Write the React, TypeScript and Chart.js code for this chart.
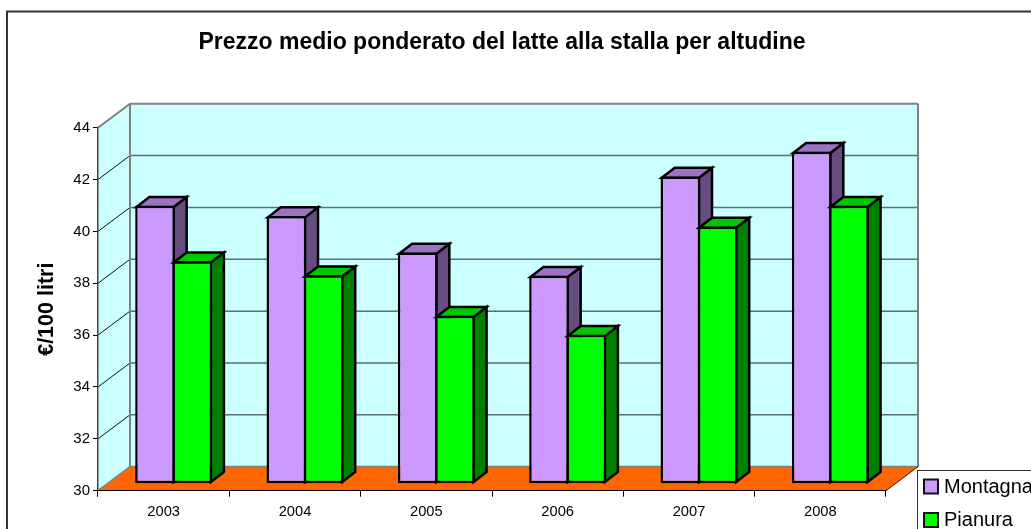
import React, { useEffect, useRef } from "react";
import { Chart, registerables } from "chart.js";

Chart.register(...registerables);

const categories = ["2003", "2004", "2005", "2006", "2007", "2008"];
const montagna = [40.72, 40.32, 38.92, 38.02, 41.85, 42.8];
const pianura = [38.58, 38.04, 36.48, 35.74, 39.92, 40.72];
const seriesNames = ["Montagna", "Pianura"];
const yTitle = "€/100 litri";
const chartTitle = "Prezzo medio ponderato del latte alla stalla per altudine";

const FONT = '"Liberation Sans", Arial, sans-serif';
const DEPTH_X = 32;
const DEPTH_Y = 24;
const BAR_SHIFT_X = 10;
const BAR_SHIFT_Y = 7;
const BAR_DX = 13;
const BAR_DY = 10;
const BAR_LINE = 2.5;

const faces: Record<string, { top: string; side: string }> = {
  "#cc99ff": { top: "#9c73c4", side: "#664d80" },
  "#00ff00": { top: "#00c800", side: "#008000" },
};

const scene3d = {
  id: "scene3d",
  afterLayout(chart: any) {
    const t = chart.titleBlock;
    t.left = 0;
    t.right = 1004;
    t.width = 1004;
  },
  beforeDraw(chart: any) {
    const { ctx, chartArea: a, scales } = chart;
    const y = scales.y;
    const poly = (pts: number[][], fill?: string) => {
      ctx.beginPath();
      pts.forEach((p, i) => (i ? ctx.lineTo(p[0], p[1]) : ctx.moveTo(p[0], p[1])));
      ctx.closePath();
      if (fill) {
        ctx.fillStyle = fill;
        ctx.fill();
      }
    };
    const line = (x0: number, y0: number, x1: number, y1: number, c: string, lw: number) => {
      ctx.beginPath();
      ctx.moveTo(x0, y0);
      ctx.lineTo(x1, y1);
      ctx.strokeStyle = c;
      ctx.lineWidth = lw;
      ctx.stroke();
    };
    ctx.save();
    ctx.fillStyle = "#ffffff";
    ctx.fillRect(0, 0, chart.width, chart.height);
    // outer frame
    ctx.strokeStyle = "#333333";
    ctx.lineWidth = 2;
    ctx.strokeRect(7, 11.5, 1200, 900);
    const bl = a.left + DEPTH_X;
    const br = a.right + DEPTH_X;
    const bt = a.top - DEPTH_Y;
    const bb = a.bottom - DEPTH_Y;
    // walls
    poly([[a.left, a.top], [bl, bt], [bl, bb], [a.left, a.bottom]], "#ccffff");
    poly([[bl, bt], [br, bt], [br, bb], [bl, bb]], "#ccffff");
    poly([[a.left, a.bottom], [a.right, a.bottom], [br, bb], [bl, bb]], "#ff6600");
    // gridlines
    y.ticks.forEach((t: any) => {
      const py = y.getPixelForValue(t.value);
      if (t.value !== y.min && t.value !== y.max) {
        line(bl, py - DEPTH_Y, br, py - DEPTH_Y, "#5f6f6f", 1.5);
      }
      if (t.value !== y.max) line(a.left, py, bl, py - DEPTH_Y, t.value === y.min ? "#808080" : "#111111", t.value === y.min ? 1.5 : 1);
    });
    // wall edges
    line(a.left, a.top, bl, bt, "#808080", 2);
    line(bl, bt, br, bt, "#808080", 2);
    line(bl, bt, bl, bb, "#808080", 2);
    line(br, bt, br, bb, "#808080", 2);
    line(bl, bb, br, bb, "#808080", 2);
    line(a.right, a.bottom, br, bb, "#222222", 1);
    ctx.restore();
  },
  beforeDatasetsDraw(chart: any) {
    const { ctx } = chart;
    const half = BAR_LINE / 2;
    ctx.save();
    ctx.translate(BAR_SHIFT_X, -BAR_SHIFT_Y);
    ctx.lineJoin = "miter";
    const metas = chart.getSortedVisibleDatasetMetas();
    categories.forEach((_, i) => {
      metas.forEach((meta: any, mi: number) => {
        const bar = meta.data[i];
        const p = bar.getProps(["x", "y", "base", "width"], true);
        const col = chart.data.datasets[meta.index].backgroundColor as string;
        const x0 = p.x - p.width / 2 + half;
        const x1 = p.x + p.width / 2 - half;
        const top = p.y + half;
        const bot = p.base - half;
        ctx.save();
        // neighbouring bars share one outline
        ctx.translate(mi === 0 ? half : -half, 0);
        ctx.lineWidth = BAR_LINE;
        ctx.strokeStyle = "#000000";
        ctx.beginPath();
        ctx.moveTo(x1, top);
        ctx.lineTo(x1 + BAR_DX, top - BAR_DY);
        ctx.lineTo(x1 + BAR_DX, bot - BAR_DY);
        ctx.lineTo(x1, bot);
        ctx.closePath();
        ctx.fillStyle = faces[col].side;
        ctx.fill();
        ctx.stroke();
        ctx.beginPath();
        ctx.moveTo(x0, top);
        ctx.lineTo(x0 + BAR_DX, top - BAR_DY);
        ctx.lineTo(x1 + BAR_DX, top - BAR_DY);
        ctx.lineTo(x1, top);
        ctx.closePath();
        ctx.fillStyle = faces[col].top;
        ctx.fill();
        ctx.stroke();
        bar.draw(ctx);
        ctx.restore();
      });
    });
    ctx.restore();
    return false;
  },
  afterDraw(chart: any) {
    const { ctx } = chart;
    ctx.save();
    ctx.fillStyle = "#ffffff";
    ctx.fillRect(917, 470.5, 200, 100);
    ctx.strokeStyle = "#333333";
    ctx.lineWidth = 1;
    ctx.strokeRect(917.5, 470.5, 200, 100);
    ctx.font = `20px ${FONT}`;
    ctx.textBaseline = "middle";
    ctx.textAlign = "left";
    chart.data.datasets.forEach((d: any, i: number) => {
      const cy = 486.5 + i * 33.5;
      ctx.fillStyle = d.backgroundColor;
      ctx.fillRect(924, cy - 7, 14, 14);
      ctx.strokeStyle = "#111111";
      ctx.lineWidth = 2;
      ctx.strokeRect(924, cy - 7, 14, 14);
      ctx.fillStyle = "#000000";
      ctx.fillText(d.label, 944, cy + 0.5);
    });
    ctx.restore();
  },
};

export default function App() {
  const ref = useRef<HTMLCanvasElement>(null);
  useEffect(() => {
    const chart = new Chart(ref.current!, {
      type: "bar",
      data: {
        labels: categories,
        datasets: [
          { label: seriesNames[0], data: montagna, base: 30, backgroundColor: "#cc99ff", borderColor: "#000000", borderWidth: BAR_LINE, borderSkipped: false },
          { label: seriesNames[1], data: pianura, base: 30, backgroundColor: "#00ff00", borderColor: "#000000", borderWidth: BAR_LINE, borderSkipped: false },
        ],
      },
      plugins: [scene3d],
      options: {
        responsive: false,
        animation: false,
        layout: { padding: { left: 0, top: 0, right: 145, bottom: 0 } },
        datasets: { bar: { categoryPercentage: 0.605, barPercentage: 1 } },
        plugins: {
          legend: { display: false },
          tooltip: { enabled: false },
          title: {
            display: true,
            text: chartTitle,
            color: "#000000",
            font: { family: FONT, size: 23, weight: "bold" },
            padding: { top: 29, bottom: 71.1 },
          },
        },
        scales: {
          x: {
            afterFit: (s: any) => {
              s.height = 38.3;
            },
            grid: { drawOnChartArea: false, drawTicks: true, tickLength: 6, color: "#000000", offset: true },
            border: { display: true, color: "#000000", width: 1 },
            ticks: { color: "#000000", font: { family: FONT, size: 14.7 }, padding: 6, maxRotation: 0 },
          },
          y: {
            min: 30,
            max: 44,
            afterFit: (s: any) => {
              s.width = 98;
            },
            title: {
              display: true,
              text: yTitle,
              color: "#000000",
              font: { family: FONT, size: 21.5, weight: "bold" },
              padding: { top: 34, bottom: 0 },
            },
            grid: { drawOnChartArea: false, drawTicks: true, tickLength: 5, color: "#000000" },
            border: { display: true, color: "#444444", width: 1.5 },
            ticks: { stepSize: 2, color: "#000000", font: { family: FONT, size: 15 }, padding: 3 },
          },
        },
      },
    } as any);
    return () => chart.destroy();
  }, []);
  return (
    <div style={{ position: "fixed", left: 0, top: 0, width: 1031, height: 529, overflow: "hidden", background: "#fff" }}>
      <canvas ref={ref} width={1031} height={529} style={{ display: "block" }} />
    </div>
  );
}
